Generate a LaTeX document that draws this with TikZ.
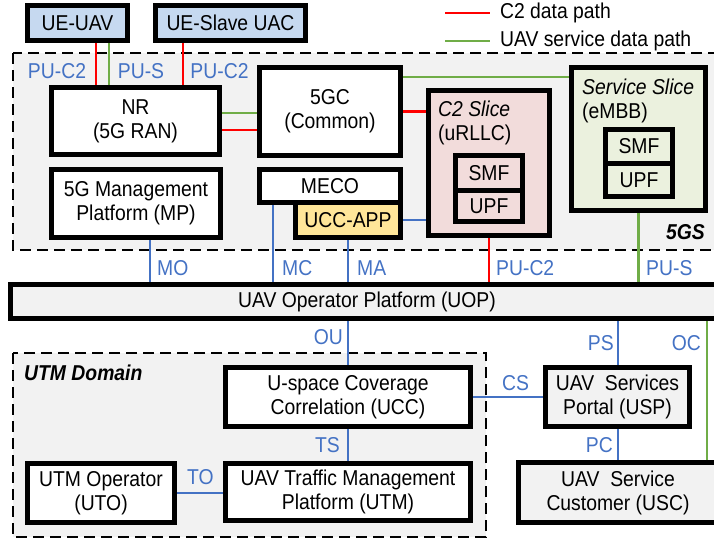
\documentclass[tikz,border=0pt]{standalone}
\usepackage{fontspec}
\setmainfont{Liberation Sans}[FakeStretch=0.9]
\usetikzlibrary{calc}

\definecolor{c2red}{RGB}{255,0,0}
\definecolor{svcgreen}{RGB}{112,173,71}
\definecolor{ifblue}{RGB}{68,114,196}
\definecolor{areagray}{RGB}{242,242,242}
\definecolor{uefill}{RGB}{198,217,240}
\definecolor{c2fill}{RGB}{242,220,219}
\definecolor{svcfill}{RGB}{235,241,222}
\definecolor{appfill}{RGB}{255,230,153}

\tikzset{
  every node/.style={font=\fontsize{21.5}{24}\selectfont},
  fnbox/.style={draw, line width=5pt, fill=white, inner sep=0pt, align=center},
  uebox/.style={fnbox, fill=uefill},
  area/.style={draw, fill=areagray, line width=2.5pt, dash pattern=on 11pt off 6pt},
  c2path/.style={draw=c2red, line width=2.2pt},
  svcpath/.style={draw=svcgreen, line width=2.2pt},
  ifline/.style={draw=ifblue, line width=2pt},
  iflabel/.style={text=ifblue, inner sep=0pt},
  areatitle/.style={font=\fontsize{21.5}{24}\selectfont\bfseries\itshape, inner sep=0pt},
  slicetext/.style={inner sep=0pt, align=left, anchor=north west}
}

\begin{document}
\begin{tikzpicture}[x=1pt, y=-1pt]
    \useasboundingbox (0,0) rectangle (714,539);

    % domains
    \path[area] (13,53) rectangle (730,250);
    \path[area] (13,353) rectangle (486,537);
    \node[areatitle, anchor=east] (fivegs) at (705,232) {5GS};
    \node[areatitle, anchor=west] (utmdom) at (24,373) {UTM Domain};

    % legend
    \coordinate (legc2) at (445,13);
    \coordinate (legsvc) at (445,41);
    \draw[c2path] (legc2) -- ++(45,0) node[anchor=west, inner xsep=9pt] {C2 data path};
    \draw[svcpath] (legsvc) -- ++(45,0) node[anchor=west, inner xsep=9pt] {UAV service data path};

    % UEs
    \node[uebox, minimum width=100pt, minimum height=35pt] (ueuav) at (77.5,23) {UE-UAV};
    \node[uebox, minimum width=150pt, minimum height=35pt] (ueslave) at (230.5,23) {UE-Slave UAC};

    % 5GS functions
    \node[fnbox, minimum width=168pt, minimum height=67pt] (nr) at (135.5,121) {NR\\(5G RAN)};
    \node[fnbox, minimum width=141pt, minimum height=88pt] (fivegc) at (330,111.5) {5GC\\(Common)};
    \node[fnbox, minimum width=169pt, minimum height=68pt] (mp) at (136,203.5) {5G Management\\Platform (MP)};
    \node[fnbox, minimum width=141pt, minimum height=33pt] (meco) at (330,186) {MECO};
    \node[fnbox, fill=appfill, minimum width=105pt, minimum height=35pt] (uccapp) at (348,220) {UCC-APP};

    % slices
    \node[fnbox, fill=c2fill, minimum width=121pt, minimum height=145pt] (c2slice) at (489,163) {};
    \node[slicetext] at ([xshift=12pt, yshift=-13pt]c2slice.north west) {\textit{C2 Slice}\\(uRLLC)};
    \node[fnbox, fill=c2fill, minimum width=67pt, minimum height=34.5pt] (c2smf) at (489,172.75) {SMF};
    \node[fnbox, fill=c2fill, minimum width=67pt, minimum height=31.5pt] (c2upf) at (489,205.75) {UPF};

    \node[fnbox, fill=svcfill, minimum width=134pt, minimum height=143pt] (svcslice) at (638.5,139) {};
    \node[slicetext] at ([xshift=13pt, yshift=-14pt]svcslice.north west) {\textit{Service Slice}\\(eMBB)};
    \node[fnbox, fill=svcfill, minimum width=67pt, minimum height=33.5pt] (svsmf) at (639,146.25) {SMF};
    \node[fnbox, fill=svcfill, minimum width=67pt, minimum height=33.5pt] (svupf) at (639,179.75) {UPF};

    % UAV operator and UTM side
    \node[fnbox, fill=areagray, minimum width=713pt, minimum height=34pt] (uop) at (367,301.5) {UAV Operator Platform (UOP)};
    \node[fnbox, minimum width=245pt, minimum height=59pt] (ucc) at (348,397) {U-space Coverage\\Correlation (UCC)};
    \node[fnbox, minimum width=245pt, minimum height=57pt] (utm) at (348,492) {UAV Traffic Management\\Platform (UTM)};
    \node[fnbox, minimum width=147pt, minimum height=59pt] (uto) at (101,493) {UTM Operator\\(UTO)};
    \node[fnbox, fill=areagray, minimum width=144pt, minimum height=59pt] (usp) at (617.5,397) {UAV\ \ Services\\Portal (USP)};
    \node[fnbox, fill=areagray, minimum width=199pt, minimum height=60pt] (usc) at (618,492.5) {UAV\ \ Service\\Customer (USC)};

    % data paths
    \draw[c2path] ([xshift=18.5pt]ueuav.south) -- ([xshift=18.5pt]ueuav.south |- nr.north);
    \draw[svcpath] ([xshift=31.5pt]ueuav.south) -- ([xshift=31.5pt]ueuav.south |- nr.north);
    \draw[c2path] ([xshift=-47.5pt]ueslave.south) -- ([xshift=-47.5pt]ueslave.south |- nr.north);
    \draw[svcpath] ([yshift=8pt]nr.east) -- ([yshift=8pt]nr.east -| fivegc.west);
    \draw[c2path] ([yshift=-9pt]nr.east) -- ([yshift=-9pt]nr.east -| fivegc.west);
    \draw[svcpath] ([yshift=34.5pt]fivegc.east) -- ([yshift=34.5pt]fivegc.east -| svcslice.west);
    \draw[c2path] (fivegc.east) -- (fivegc.east -| c2slice.west);
    \draw[c2path] (c2slice.south) -- (c2slice.south |- uop.north);
    \draw[svcpath] (svcslice.south) -- (svcslice.south |- uop.north);
    \draw[svcpath] ([xshift=89pt]usc.north) -- ([xshift=89pt]usc.north |- uop.south);

    % interfaces
    \draw[ifline] (uccapp.east) -- (uccapp.east -| c2slice.west);
    \draw[ifline] ([xshift=14pt]mp.south) -- ([xshift=14pt]mp.south |- uop.north);
    \draw[ifline] ([xshift=-57pt]meco.south) -- ([xshift=-57pt]meco.south |- uop.north);
    \draw[ifline] (uccapp.south) -- (uccapp.south |- uop.north);
    \draw[ifline] (ucc.north |- uop.south) -- (ucc.north);
    \draw[ifline] (usp.north |- uop.south) -- (usp.north);
    \draw[ifline] (ucc.east) -- (ucc.east -| usp.west);
    \draw[ifline] (ucc.south) -- (ucc.south |- utm.north);
    \draw[ifline] (usp.south) -- (usp.south |- usc.north);
    \draw[ifline] (uto.east) -- (uto.east -| utm.west);

    % interface labels
    \node[iflabel] at (57,71) {PU-C2};
    \node[iflabel] at (141,71) {PU-S};
    \node[iflabel] at (219.5,71) {PU-C2};
    \node[iflabel, anchor=west] at (157,268) {MO};
    \node[iflabel, anchor=west] at (282,268) {MC};
    \node[iflabel, anchor=west] at (357,268) {MA};
    \node[iflabel, anchor=west] at (496,268) {PU-C2};
    \node[iflabel, anchor=west] at (646,268) {PU-S};
    \node[iflabel, anchor=east] at (343,337) {OU};
    \node[iflabel, anchor=east] at (614,343) {PS};
    \node[iflabel, anchor=east] at (701,343) {OC};
    \node[iflabel] at (515.5,383) {CS};
    \node[iflabel, anchor=east] at (340,445) {TS};
    \node[iflabel, anchor=east] at (613,445) {PC};
    \node[iflabel] at (200.5,477) {TO};
\end{tikzpicture}
\end{document}
